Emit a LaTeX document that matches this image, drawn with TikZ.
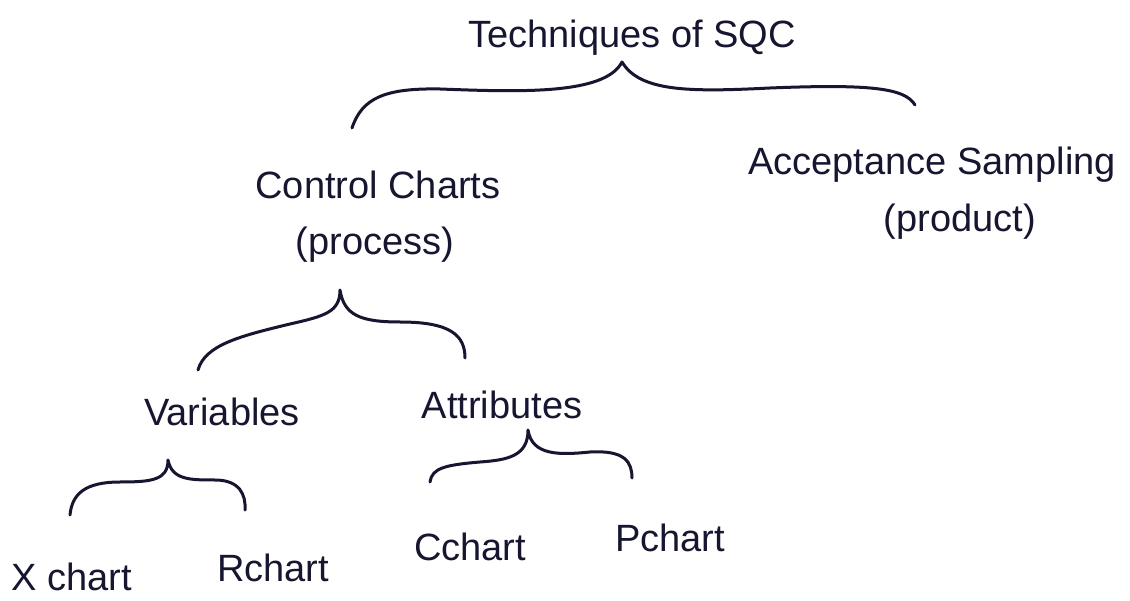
\documentclass[tikz,border=0pt]{standalone}
\usepackage{fontspec}
\setmainfont{Liberation Sans}
\definecolor{ink}{RGB}{22,22,48}
\tikzset{
  lbl/.style={text=ink, inner sep=0pt, font=\fontsize{38}{44}\selectfont},
  brace/.style={draw=ink, line width=3pt, line cap=round, line join=round}
}
\begin{document}
\begin{tikzpicture}[x=1pt,y=-1pt]
\useasboundingbox[fill=white] (0,0) rectangle (1130,601);
% labels
\node[lbl] (sqc) at (632,38) {Techniques of SQC};
\node[lbl] (cc) at (378,185) {Control Charts};
\node[lbl] (proc) at (375,245) {(process)};
\node[lbl] (as) at (932,165) {Acceptance Sampling};
\node[lbl] (prod) at (960,222) {(product)};
\node[lbl] (var) at (222,412) {Variables};
\node[lbl] (att) at (502,405) {Attributes};
\node[lbl] (xc) at (72,577) {X chart};
\node[lbl] (rc) at (273,568) {Rchart};
\node[lbl] (ccx) at (470,547) {Cchart};
\node[lbl] (pc) at (670,538) {Pchart};
% brace points
\coordinate (b1c) at (622,62);
\coordinate (b1l) at (352,128);
\coordinate (b1r) at (915,105);
\coordinate (b2c) at (340,290);
\coordinate (b2l) at (198,370);
\coordinate (b2r) at (465,358);
\coordinate (b3c) at (168,460);
\coordinate (b3l) at (70,515);
\coordinate (b3r) at (245,510);
\coordinate (b4c) at (528,430);
\coordinate (b4l) at (430,482);
\coordinate (b4r) at (632,478);
% braces
\draw[brace] (b1l) .. controls (362,98) and (385,88) .. (440,89)
  .. controls (520,92) and (605,95) .. (b1c)
  .. controls (640,92) and (690,92) .. (770,88)
  .. controls (870,84) and (905,88) .. (b1r);
\draw[brace] (b2l) .. controls (205,345) and (240,336) .. (290,324)
  .. controls (325,316) and (340,312) .. (b2c)
  .. controls (344,315) and (360,322) .. (400,322)
  .. controls (450,322) and (465,335) .. (b2r);
\draw[brace] (b3l) .. controls (72,494) and (85,482) .. (120,482)
  .. controls (152,482) and (168,480) .. (b3c)
  .. controls (172,480) and (190,480) .. (215,480)
  .. controls (240,480) and (246,495) .. (b3r);
\draw[brace] (b4l) .. controls (432,468) and (445,465) .. (480,462)
  .. controls (508,460) and (528,456) .. (b4c)
  .. controls (532,456) and (560,455) .. (590,452)
  .. controls (625,450) and (632,462) .. (b4r);
\end{tikzpicture}
\end{document}
